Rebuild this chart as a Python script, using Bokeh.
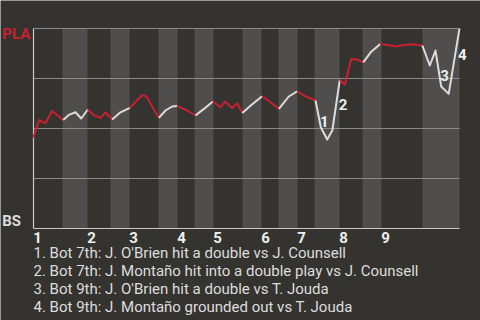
from bokeh.plotting import figure
from bokeh.models import Range1d
from bokeh.core.properties import value
from bokeh.embed import file_html
from bokeh.resources import INLINE

# ---- data ----
teams = ["PLA", "BS"]  # top (win prob 1) / bottom (win prob 0)
innings = ["1", "2", "3", "4", "5", "6", "7", "8", "9"]
# end of each half inning, in plate-appearance units
half_ends = [4.83, 9, 12.83, 16, 20.83, 24, 26.83, 30, 34.83, 38,
             40.83, 44, 46.83, 51, 54.83, 58, 64.83, 71]
# win-probability series (PLA perspective)
pa = [0, 0.92, 2, 3.12, 4.95,
      5.88, 7, 7.95, 9.05,
      10, 11.17, 12, 13.1,
      14.5, 16.05,
      18.1, 18.8, 20.9,
      22, 23.1, 23.95,
      25.6, 26.7, 27,
      28.4, 29.9,
      31.2, 31.9, 33.1, 33.95, 34.8,
      36.2, 38.1,
      39.5, 40.9,
      42.55, 43.95,
      45.05, 47,
      47.9, 48.95, 49.8, 51.05,
      51.9, 52.95, 53.95, 54.95,
      56.2, 57.8,
      59.5, 60.3, 61.2, 63.1, 64.8,
      66.05, 67, 67.95, 69.2, 71]
wp = [0.455, 0.542, 0.527, 0.588, 0.543,
      0.568, 0.581, 0.55, 0.595,
      0.568, 0.553, 0.581, 0.545,
      0.581, 0.603,
      0.666, 0.661, 0.553,
      0.59, 0.61, 0.613,
      0.59, 0.57, 0.565,
      0.598, 0.635,
      0.606, 0.635, 0.603, 0.626, 0.578,
      0.615, 0.661,
      0.631, 0.598,
      0.66, 0.686,
      0.665, 0.64,
      0.505, 0.445, 0.49, 0.743,
      0.72, 0.848, 0.845, 0.831,
      0.881, 0.923,
      0.915, 0.91, 0.915, 0.921, 0.915,
      0.815, 0.89, 0.71, 0.673, 1.0]
half_counts = [5, 4, 4, 2, 3, 3, 3, 2, 5, 2, 2, 2, 2, 4, 4, 2, 5, 5]
# key plays: label, x, y of the label
notes = ["1", "2", "3", "4"]
note_x = [48.45, 51.58, 68.5, 71.45]
note_y = [0.533, 0.622, 0.766, 0.871]
note_text = [
    "1. Bot 7th: J. O'Brien hit a double vs J. Counsell",
    "2. Bot 7th: J. Montaño hit into a double play vs J. Counsell",
    "3. Bot 9th: J. O'Brien hit a double vs T. Jouda",
    "4. Bot 9th: J. Montaño grounded out vs T. Jouda",
]

BG = "#353330"
BAND = "#4f4e4d"
RED = "#c8202f"
WHITE = "#dcdcdc"
FONT = value("Roboto")

p = figure(width=480, height=320, output_backend="svg", toolbar_location=None,
           x_range=Range1d(-5.5, 74.5), y_range=Range1d(-0.46, 1.14),
           min_border=0, min_border_left=0, min_border_right=0,
           min_border_top=0, min_border_bottom=0)
p.background_fill_color = BG
p.border_fill_color = BG
p.outline_line_color = None
p.grid.visible = False
p.axis.visible = False

# bottom-half bands
starts = [half_ends[i] for i in range(0, len(half_ends), 2)]
ends = [half_ends[i] for i in range(1, len(half_ends), 2)]
p.quad(left=starts, right=ends, bottom=0, top=1, fill_color=BAND, line_color=None)

# grid lines
gy = [0.25, 0.5, 0.75, 1.0]
p.segment(x0=[0] * 4, x1=[half_ends[-1]] * 4, y0=gy, y1=gy, line_color="#8a8a88", line_width=1)
# axis lines
p.segment(x0=[0, 0], x1=[half_ends[-1], 0], y0=[0, 0], y1=[0, 1], line_color="#c8c8c8", line_width=1.2)

# win probability line, coloured by batting team
idx = 0
for h, n in enumerate(half_counts):
    lo = max(idx - 1, 0)
    xs = pa[lo: idx + n]
    ys = wp[lo: idx + n]
    p.line(xs, ys, line_color=RED if h % 2 == 0 else WHITE, line_width=2, line_join="round")
    idx += n

# team labels
p.text(x=[-5.2], y=[0.975], text=[teams[0]], text_color=RED, text_font=FONT,
       text_font_style="bold", text_font_size="15px", text_baseline="middle", text_align="left")
p.text(x=[-5.2], y=[0.04], text=[teams[1]], text_color=WHITE, text_font=FONT,
       text_font_style="bold", text_font_size="15px", text_baseline="middle", text_align="left")

# inning labels at start of each inning
inning_x = [0] + [half_ends[i] for i in range(1, 17, 2)]
p.text(x=[v + 0.67 for v in inning_x], y=[-0.045] * 9, text=innings, text_color="#eeeeee",
       text_font=FONT, text_font_style="bold", text_font_size="15px",
       text_baseline="middle", text_align="center")

# key play markers
p.text(x=note_x, y=note_y, text=notes, text_color="#eeeeee", text_font=FONT,
       text_font_style="bold", text_font_size="15px", text_baseline="middle", text_align="center")

# footnotes
p.text(x=[0] * 4, y=[-0.124 - 0.09 * i for i in range(4)], text=note_text, text_color="#dddddd",
       text_font=FONT, text_font_size="15px", text_baseline="middle", text_align="left")

open("out.html", "w").write(file_html(p, INLINE))
